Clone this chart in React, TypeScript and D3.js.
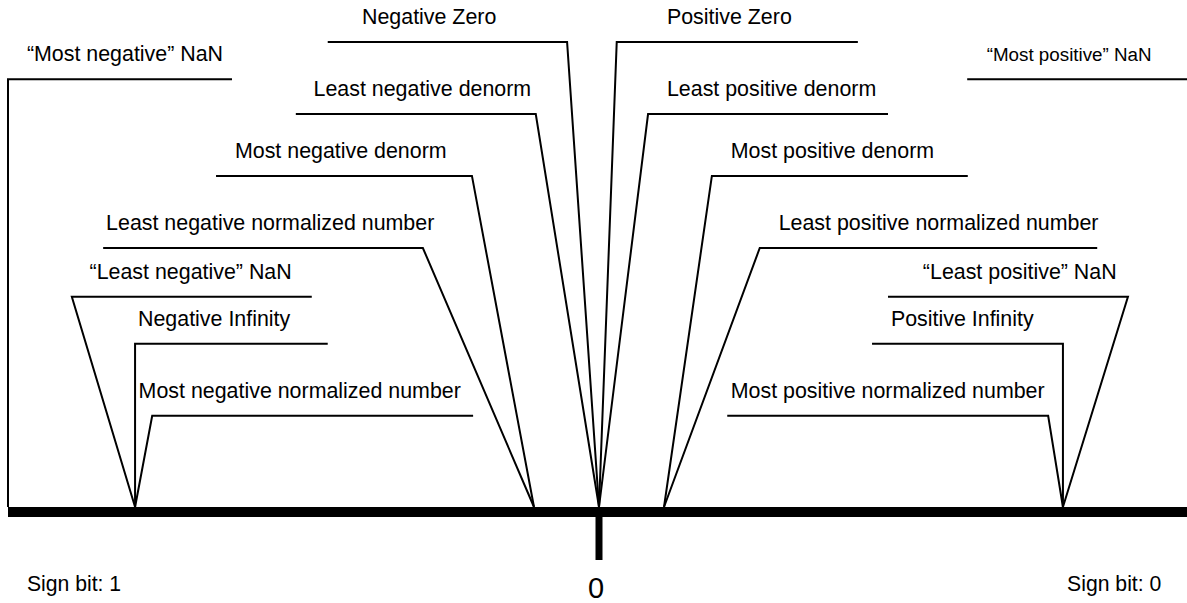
import React from 'react';
import * as d3 from 'd3';

// callout labels, left half then right half
const labels = [
  '\u201CMost negative\u201D NaN',
  'Negative Zero',
  'Least negative denorm',
  'Most negative denorm',
  'Least negative normalized number',
  '\u201CLeast negative\u201D NaN',
  'Negative Infinity',
  'Most negative normalized number',
  'Positive Zero',
  'Least positive denorm',
  'Most positive denorm',
  'Least positive normalized number',
  '\u201CLeast positive\u201D NaN',
  'Positive Infinity',
  'Most positive normalized number',
  '\u201CMost positive\u201D NaN',
];

// where each callout lands on the number line (-1 .. 1, 0 = zero)
const anchors = [-1, 0, 0, -0.11, -0.11, -0.785, -0.785, -0.785, 0, 0, 0.11, 0.11, 0.785, 0.785, 0.785, 1];

// height of each label row above the line (0 = line, 1 = top row)
const levels = [0.92, 1, 0.845, 0.712, 0.557, 0.452, 0.351, 0.196, 1, 0.845, 0.712, 0.557, 0.452, 0.351, 0.196, 0.92];

// underline: elbow end (joins the leader) and free end
const elbows = [-1, -0.054, -0.107, -0.215, -0.298, -0.892, -0.785, -0.756, 0.03, 0.083, 0.191, 0.272, 0.895, 0.785, 0.76, 1];
const ends = [-0.621, -0.459, -0.513, -0.648, -0.839, -0.486, -0.459, -0.213, 0.438, 0.489, 0.624, 0.843, 0.489, 0.462, 0.217, 0.623];
const textStarts = [-0.968, -0.401, -0.483, -0.616, -0.834, -0.862, -0.780, -0.779, 0.115, 0.115, 0.223, 0.304, 0.548, 0.494, 0.223, 0.656];

const signLabels = ['Sign bit: 1', 'Sign bit: 0'];
const zeroLabel = '0';

const W = 1187;
const H = 603;

export default function App() {
  const x = d3.scaleLinear().domain([-1, 1]).range([8, 1190]);
  const y = d3.scaleLinear().domain([0, 1]).range([507, 42]);
  const line = d3.line<[number, number]>().x(d => x(d[0])).y(d => y(d[1]));

  return (
    <svg width={W} height={H} style={{ position: 'fixed', left: 0, top: 0, background: '#fff' }}
      fontFamily="'Liberation Sans', Arial, sans-serif">
      {labels.map((t, i) => (
        <g key={t}>
          <path
            d={line([[ends[i], levels[i]], [elbows[i], levels[i]], [anchors[i], 0]]) || ''}
            fill="none" stroke="#000" strokeWidth={2} strokeLinejoin="miter" />
          <text x={x(textStarts[i])} y={y(levels[i]) - 18}
            fontSize={i === 15 ? 18.8 : 21.4} fill="#000">{t}</text>
        </g>
      ))}
      <line x1={x(-1)} x2={x(1)} y1={y(0) + 5} y2={y(0) + 5} stroke="#000" strokeWidth={10} />
      <line x1={x(0)} x2={x(0)} y1={y(0) + 10} y2={560} stroke="#000" strokeWidth={7} />
      <text x={x(0) - 3} y={598} fontSize={29} textAnchor="middle" fill="#000">{zeroLabel}</text>
      <text x={x(-0.968)} y={591} fontSize={21.2} fill="#000">{signLabels[0]}</text>
      <text x={x(0.792)} y={591} fontSize={21.2} fill="#000">{signLabels[1]}</text>
    </svg>
  );
}
